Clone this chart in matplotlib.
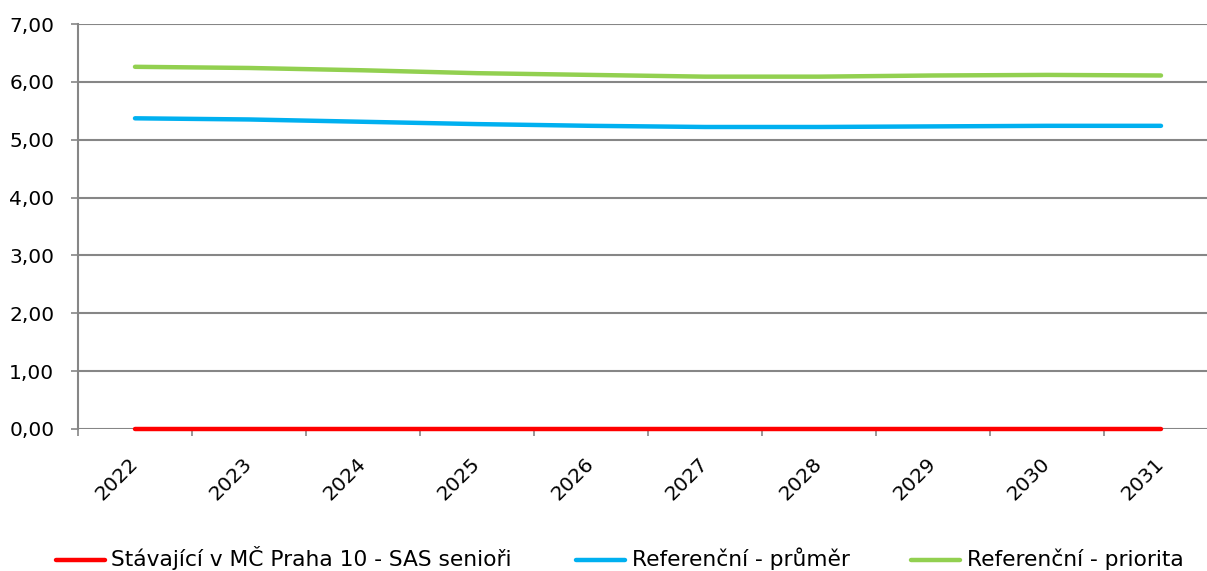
#!/usr/bin/env python3

import matplotlib
matplotlib.use("Agg")
import matplotlib.pyplot as plt
from matplotlib.lines import Line2D
from matplotlib.ticker import FixedLocator, FuncFormatter

plt.rcParams["font.family"] = "DejaVu Sans"
plt.rcParams["font.size"] = 14.5

years = ["2022", "2023", "2024", "2025", "2026", "2027", "2028", "2029", "2030", "2031"]
stavajici = [0, 0, 0, 0, 0, 0, 0, 0, 0, 0]
ref_prumer = [5.37, 5.35, 5.31, 5.27, 5.24, 5.22, 5.22, 5.23, 5.24, 5.24]
ref_priorita = [6.26, 6.24, 6.20, 6.15, 6.12, 6.09, 6.09, 6.11, 6.12, 6.11]

labels = ["Stávající v MČ Praha 10 - SAS senioři", "Referenční - průměr", "Referenční - priorita"]
colors = ["#FF0000", "#00B0F0", "#92D050"]
GRID = "#868686"

W, H = 1207, 571
fig = plt.figure(figsize=(W / 100, H / 100), dpi=100)
ax = fig.add_axes([78 / W, 142 / H, 1140 / W, 405 / H])

x = list(range(len(years)))
for series, lab, col in zip([stavajici, ref_prumer, ref_priorita], labels, colors):
    ax.plot(x, series, color=col, linewidth=3.2, label=lab,
            solid_capstyle="round", zorder=3, clip_on=False)

ax.set_xlim(-0.5, len(years) - 0.5)
ax.set_ylim(0, 7)
ax.set_yticks(range(0, 8))
ax.yaxis.set_major_formatter(FuncFormatter(lambda v, p: f"{v:.2f}".replace(".", ",")))
ax.grid(axis="y", color=GRID, linewidth=1.5, zorder=1)

# tick marks between categories, year labels at the category centres
ax.xaxis.set_major_locator(FixedLocator([i - 0.5 for i in range(len(years) + 1)]))
ax.xaxis.set_minor_locator(FixedLocator(x))
ax.set_xticklabels([], minor=False)
ax.set_xticklabels(years, minor=True, rotation=45, ha="right", va="center",
                   rotation_mode="anchor")
ax.tick_params(axis="x", which="major", length=5, width=1.2, color=GRID)
ax.tick_params(axis="x", which="minor", length=0, pad=23)
ax.tick_params(axis="y", length=5, width=1.2, color=GRID, pad=12)

for s in ["top", "right", "bottom"]:
    ax.spines[s].set_visible(False)
ax.spines["left"].set_color(GRID)
ax.spines["left"].set_linewidth(1.5)

# legend drawn by hand (pixel positions as in the reference)
leg_y = (H - 560) / H
text_y = (H - 566) / H
for lab, col, (x0, x1, xt) in zip(labels, colors,
                                 [(56, 105, 111), (576, 625, 632), (911, 960, 967)]):
    fig.add_artist(Line2D([x0 / W, x1 / W], [leg_y, leg_y], color=col,
                          linewidth=3.2, solid_capstyle="round"))
    fig.text(xt / W, text_y, lab, fontsize=15.7, ha="left", va="baseline")

fig.savefig("out.png", dpi=100)
